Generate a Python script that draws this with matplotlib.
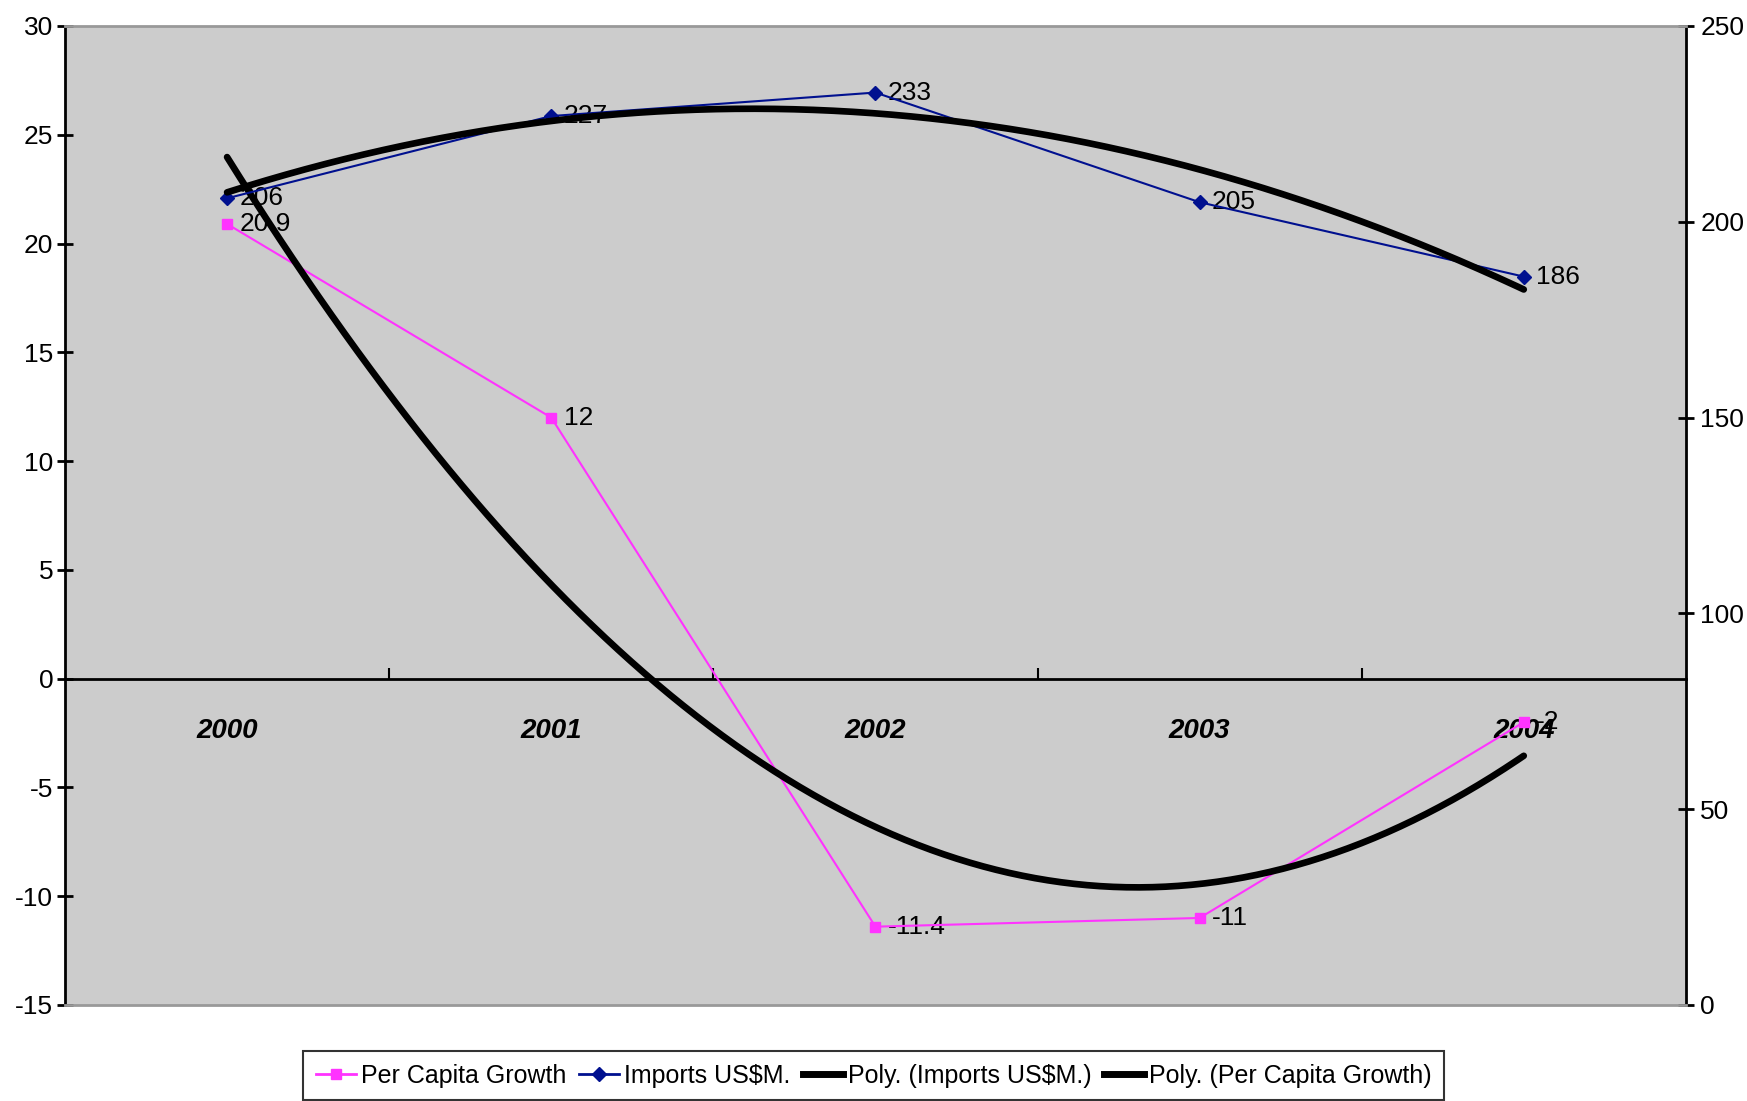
import numpy as np
import matplotlib
matplotlib.use("Agg")
import matplotlib.pyplot as plt
from matplotlib.lines import Line2D

plt.rcParams['font.family'] = ['Liberation Sans', 'DejaVu Sans']
plt.rcParams['axes.unicode_minus'] = False

years = ["2000", "2001", "2002", "2003", "2004"]
per_capita = [20.9, 12, -11.4, -11, -2]
imports = [206, 227, 233, 205, 186]
pc_labels = ["20.9", "12", "-11.4", "-11", "-2"]
imp_labels = ["206", "227", "233", "205", "186"]

PINK = "#FF33FF"
NAVY = "#00108F"

x = np.arange(1, len(years) + 1)
xs = np.linspace(1, len(years), 200)
# Excel-style 2nd order polynomial trendlines
pc_fit = np.polyval(np.polyfit(x, per_capita, 2), xs)
imp_fit = np.polyval(np.polyfit(x, imports, 2), xs)

fig = plt.figure(figsize=(17.47, 11.01), dpi=100)
ax = fig.add_axes([0.0372, 0.0872, 0.9278, 0.8892])
ax2 = ax.twinx()

ax.set_facecolor("#CCCCCC")
ax.set_xlim(0.5, 5.5)
ax.set_ylim(-15, 30)
ax2.set_ylim(0, 250)

# series
ax.plot(x, per_capita, color=PINK, lw=1.5, marker="s", ms=7, zorder=3)
for xi, yi, lab in zip(x, per_capita, pc_labels):
    ax.annotate(lab, (xi, yi), xytext=(9, 0), textcoords="offset points",
                va="center", ha="left", fontsize=19, zorder=2)
ax.plot(xs, pc_fit, color="black", lw=4.8, solid_capstyle="round", zorder=4)

ax2.plot(x, imports, color=NAVY, lw=1.5, marker="D", ms=7, zorder=3)
for xi, yi, lab in zip(x, imports, imp_labels):
    ax2.annotate(lab, (xi, yi), xytext=(9, 0), textcoords="offset points",
                 va="center", ha="left", fontsize=19, zorder=2)
ax2.plot(xs, imp_fit, color="black", lw=4.8, solid_capstyle="round", zorder=4)

# left axis
ax.set_yticks(np.arange(-15, 31, 5))
ax.tick_params(axis="y", direction="inout", length=11, width=2, labelsize=19, pad=3)
ax.spines["left"].set_linewidth(2)
ax.spines["top"].set_visible(False)
ax.spines["right"].set_visible(False)

# category axis along zero line
ax.spines["bottom"].set_position(("data", 0))
ax.spines["bottom"].set_linewidth(2)
ax.set_xticks(x)
ax.set_xticklabels(years, fontsize=20, fontweight="bold", fontstyle="italic")
ax.set_xticks([1.5, 2.5, 3.5, 4.5], minor=True)
ax.tick_params(axis="x", which="major", length=0, pad=28)
ax.tick_params(axis="x", which="minor", direction="in", length=8, width=1.5)

# right axis
ax2.set_yticks(np.arange(0, 251, 50))
ax2.tick_params(axis="y", direction="inout", length=11, width=2, labelsize=19, pad=5)
ax2.spines["right"].set_linewidth(2)
ax2.spines["left"].set_visible(False)
ax2.spines["top"].set_color("#999999")
ax2.spines["top"].set_linewidth(2)
ax2.spines["bottom"].set_color("#999999")
ax2.spines["bottom"].set_linewidth(2)

handles = [
    Line2D([], [], color=PINK, lw=2, marker="s", ms=7),
    Line2D([], [], color=NAVY, lw=2, marker="D", ms=7),
    Line2D([], [], color="black", lw=5),
    Line2D([], [], color="black", lw=5),
]
names = ["Per Capita Growth", "Imports US$M.", "Poly. (Imports US$M.)",
         "Poly. (Per Capita Growth)"]
leg = fig.legend(handles, names, loc="upper center", bbox_to_anchor=(0.5, 0.0454),
                 ncol=4, fontsize=18, frameon=True, fancybox=False,
                 edgecolor="black", handlelength=1.6, handletextpad=0.2,
                 columnspacing=0.5, borderpad=0.5, borderaxespad=0)
leg.get_frame().set_linewidth(1.5)

fig.savefig("out.png", dpi=100)
